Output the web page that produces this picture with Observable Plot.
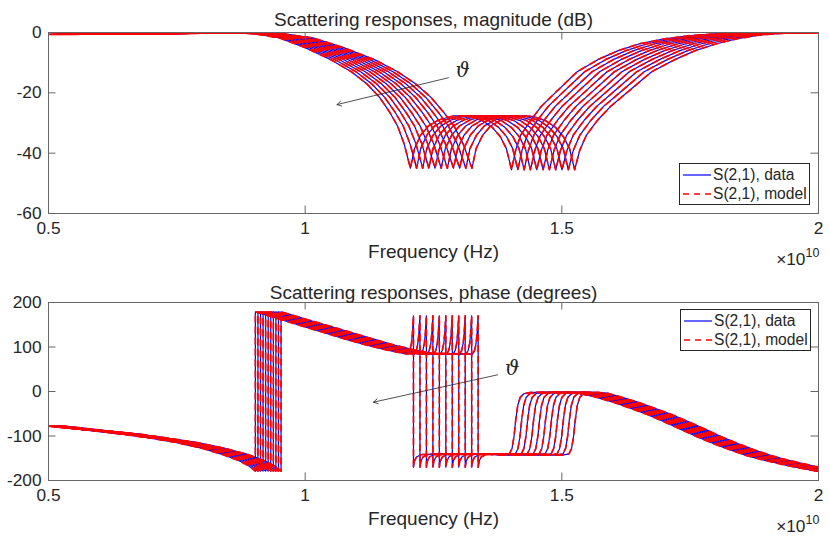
<!DOCTYPE html>
<html><head><meta charset="utf-8">
<script src="https://cdn.jsdelivr.net/npm/d3@7"></script>
<script src="https://cdn.jsdelivr.net/npm/@observablehq/plot@0.6"></script>
<style>
body{margin:0;background:#fff;}
#wrap{position:relative;width:830px;height:546px;font-family:"Liberation Sans",Arial,Helvetica,sans-serif;color:#262626;overflow:hidden;}
.panel{position:absolute;left:0;}
.legend{position:absolute;background:#fff;border:1px solid #262626;box-sizing:border-box;width:131px;height:42px;font-size:15.6px;}
.row{position:absolute;left:0;height:18px;display:flex;align-items:center;white-space:nowrap;}
.row svg{margin-left:3px;margin-right:2px;}
</style></head><body><div id="wrap"></div>
<script>
// ---- data ----
// relative position of each of the 11 curves of the family (ϑ sweep)
const curveShare = [0, 0.1, 0.2, 0.3, 0.4, 0.5, 0.6, 0.7, 0.8, 0.9, 1.0];

// magnitude (dB) of the first curve, and how far the last curve is shifted (×1e10 Hz)
const magFreq = [0.50,0.60,0.70,0.80,0.86,0.90,0.95,1.00,1.05,1.09,1.12,1.145,1.165,1.18,1.193,1.205,1.213,1.225,1.24,1.26,1.29,1.32,1.345,1.365,1.38,1.392,1.402,1.41,1.42,1.44,1.46,1.49,1.53,1.57,1.61,1.65,1.70,1.75,1.80,1.86,1.93,2.00];
const magDb = [-0.6,-0.5,-0.35,-0.15,-0.05,-0.4,-1.8,-5.0,-9.0,-13.0,-17.0,-21.5,-26.5,-31,-37,-45,-38.5,-34,-31,-29,-27.6,-27.8,-29.2,-31.5,-34.5,-38.5,-45.5,-39,-34,-29,-24.5,-19.5,-13,-9,-6,-3.8,-2.1,-1.0,-0.45,-0.1,0,0];
const magSpread = [0.05,0.05,0.05,0.05,0.05,0.055,0.065,0.075,0.085,0.09,0.095,0.1,0.105,0.11,0.115,0.12,0.12,0.121,0.121,0.122,0.122,0.123,0.123,0.123,0.123,0.123,0.123,0.125,0.128,0.13,0.135,0.14,0.145,0.15,0.15,0.15,0.14,0.13,0.11,0.09,0.07,0.05];

// phase (degrees) of the first curve, and shift of the last curve
const phFreq = [0.50,0.55,0.60,0.65,0.70,0.75,0.80,0.84,0.87,0.89,0.903,0.903,0.93,0.96,1.00,1.04,1.08,1.12,1.16,1.19,1.200,1.204,1.207,1.209,1.211,1.211,1.213,1.217,1.225,1.26,1.35,1.385,1.398,1.403,1.407,1.410,1.414,1.419,1.426,1.44,1.48,1.53,1.561,1.60,1.632,1.665,1.697,1.73,1.762,1.795,1.827,1.86,1.892,1.945,2.0];
const phDeg = [-78,-84,-90,-97,-105,-115,-128,-142,-155,-167,-179,179,170,159,145,131,117,104,93,86,84,92,108,132,170,-170,-156,-147,-142,-140,-141,-143,-140,-128,-100,-66,-32,-13,-5,-2,-2,-4,-11,-24,-37,-51,-67,-84,-101,-117,-131,-144,-154,-168,-180];
const phSpread = [0.03,0.03,0.03,0.035,0.035,0.04,0.045,0.05,0.05,0.05,0.05,0.05,0.05,0.052,0.054,0.055,0.055,0.055,0.055,0.055,0.126,0.126,0.126,0.126,0.126,0.126,0.126,0.126,0.126,0.126,0.12,0.116,0.116,0.116,0.116,0.116,0.116,0.116,0.116,0.11,0.09,0.06,0.05,0.048,0.048,0.048,0.048,0.048,0.048,0.048,0.048,0.048,0.048,0.048,0.048];

const xTicks = [0.5, 1, 1.5, 2];
const magTicks = [0, -20, -40, -60];
const phTicks = [200, 100, 0, -100, -200];

const magArrow = [{x1: 1.279, y1: -15.0, x2: 1.062, y2: -23.9}];
const magTheta = [{x: 1.307, y: -12.6}];
const phArrow = [{x1: 1.375, y1: 37.5, x2: 1.133, y2: -24}];
const phTheta = [{x: 1.403, y: 52}];

const titles = ["Scattering responses, magnitude (dB)", "Scattering responses, phase (degrees)"];
const xLabel = "Frequency (Hz)";
const legendLabels = ["S(2,1), data", "S(2,1), model"];

// ---- build family tables ----
function family(freq, vals, spread) {
  const rows = [];
  curveShare.forEach((s, k) => {
    freq.forEach((f, i) => rows.push({k, f: f + spread[i] * s, v: vals[i]}));
  });
  return rows;
}
const magData = family(magFreq, magDb, magSpread);
const phData = family(phFreq, phDeg, phSpread);

const INK = "#262626";
const DASH = "6,5";
function panel({data, yDomain, yTicks, mt, mb, title, titleDy, arrow, theta}) {
  const H = 273, frameH = H - mt - mb, frameW = 830 - 48 - 12, tl = 7.5;
  return Plot.plot({
    width: 830, height: H,
    marginLeft: 48, marginRight: 12, marginTop: mt, marginBottom: mb,
    style: {fontFamily: "'Liberation Sans', Arial, sans-serif", fontSize: "17.3px", color: INK, background: "white", overflow: "visible"},
    x: {domain: [0.5, 2]},
    y: {domain: yDomain},
    marks: [
      Plot.line(data, {x: "f", y: "v", z: "k", stroke: "#0000ff", strokeWidth: 1.2, clip: true}),
      Plot.line(data, {x: "f", y: "v", z: "k", stroke: "#ff0000", strokeWidth: 1.7, strokeDasharray: DASH, clip: true}),
      Plot.frame({stroke: "#666", strokeWidth: 1}),
      Plot.tickX(xTicks, {x: d => d, insetTop: frameH - tl, stroke: "#666"}),
      Plot.tickX(xTicks, {x: d => d, insetBottom: frameH - tl, stroke: "#666"}),
      Plot.tickY(yTicks, {y: d => d, insetRight: frameW - tl, stroke: "#666"}),
      Plot.tickY(yTicks, {y: d => d, insetLeft: frameW - tl, stroke: "#666"}),
      Plot.axisX(xTicks, {tickSize: 0, tickPadding: 8, tickFormat: d => String(d), label: null}),
      Plot.axisY(yTicks, {tickSize: 0, tickPadding: 7, tickFormat: d => String(d), label: null}),
      Plot.arrow(arrow, {x1: "x1", y1: "y1", x2: "x2", y2: "y2", stroke: INK, strokeWidth: 0.8, headLength: 9}),
      Plot.text(theta, {x: "x", y: "y", text: () => "ϑ", fontFamily: "'DejaVu Serif', serif", fontStyle: "italic", fontSize: 20, fill: INK}),
      Plot.text([title], {text: d => d, frameAnchor: "top", dy: titleDy, fontSize: 19, fill: INK}),
      Plot.text([xLabel], {text: d => d, frameAnchor: "bottom", dy: 44, fontSize: 19, fill: INK}),
      Plot.text(["×10"], {text: d => d, frameAnchor: "bottom-right", dx: -13, dy: 51, textAnchor: "end", fontSize: 17.3, fill: INK}),
      Plot.text(["10"], {text: d => d, frameAnchor: "bottom-right", dx: -13, dy: 43, textAnchor: "start", fontSize: 12.5, fill: INK})
    ]
  });
}

const wrap = document.getElementById("wrap");
const top1 = panel({data: magData, yDomain: [-60, 0], yTicks: magTicks, mt: 32, mb: 60, title: titles[0], titleDy: -20, arrow: magArrow, theta: magTheta});
top1.classList.add("panel"); top1.style.top = "0px";
wrap.appendChild(top1);
const bot = panel({data: phData, yDomain: [-200, 200], yTicks: phTicks, mt: 29, mb: 66, title: titles[1], titleDy: -17, arrow: phArrow, theta: phTheta});
bot.classList.add("panel"); bot.style.top = "273px";
wrap.appendChild(bot);

function legend(left, top) {
  const box = document.createElement("div");
  box.className = "legend";
  box.style.left = left + "px"; box.style.top = top + "px";
  legendLabels.forEach((lab, i) => {
    const row = document.createElement("div");
    row.className = "row";
    row.style.top = (i === 0 ? 2 : 21) + "px";
    const dash = i === 0 ? "" : ` stroke-dasharray="${DASH}"`;
    const col = i === 0 ? "#0000ff" : "#ff0000";
    const sw = i === 0 ? 1.2 : 1.7;
    row.innerHTML = `<svg width="28" height="10"><line x1="0" y1="5" x2="28" y2="5" stroke="${col}" stroke-width="${sw}"${dash}/></svg><span>${lab}</span>`;
    box.appendChild(row);
  });
  wrap.appendChild(box);
}
legend(679, 163);
legend(680, 309);
</script></body></html>
